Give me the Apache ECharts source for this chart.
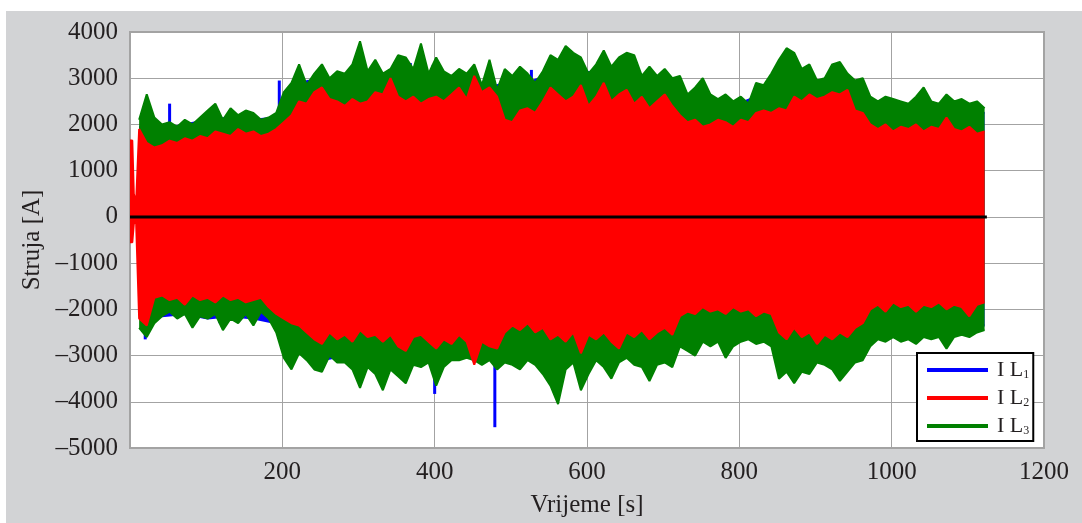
<!DOCTYPE html>
<html>
<head>
<meta charset="utf-8">
<script src="https://cdn.jsdelivr.net/npm/echarts@6/dist/echarts.min.js"></script>
<style>
  html, body { margin: 0; padding: 0; background: #fff; }
  #chart { position: absolute; left: 6px; top: 11px; width: 1076px; height: 512px; }
</style>
</head>
<body>
<div id="chart"></div>
<script>
// Struje faza – envelopa signala očitana sa slike (korak 10 s, od t = 12 s)
const T0 = 12, DT = 10;

const greenUp = [2100, 2650, 2150, 2000, 2050, 1950, 2100, 2000, 2150, 2300, 2450, 2100, 2350, 2200, 2300, 2250, 2100, 2150, 2250,
  2700, 2900, 3300, 2850, 3100, 3300, 3000, 3150,
  3100, 3300, 3800, 3150, 3400, 3100, 3200, 3500, 3450, 3200, 3750, 3100, 3450, 3150, 3050, 3200, 3100, 3300, 2850, 3400, 2750, 3200, 3050, 3250, 3100, 2900, 3150, 3500,
  3400, 3700, 3550, 3450, 3100, 3300, 3600, 3250, 3450, 3550, 3500, 3050, 3250, 3050, 3200, 3000, 3050, 2650, 2800, 3000, 2650, 2550, 2650, 2500, 2600, 2450, 2900, 2850,
  3100, 3400, 3650, 3550, 3200, 3300, 2950, 3000, 3300, 3350, 3100, 2950, 3000, 2600, 2500, 2600, 2550, 2500, 2450, 2600, 2800, 2500, 2450, 2650, 2500, 2550, 2450, 2500, 2350];

const greenLow = [-2400, -2600, -2300, -2150, -2050, -2200, -2100, -2400, -2150, -2200, -2100, -2450, -2200, -2300, -2100, -2350, -2050, -2200, -2500,
  -3050, -3300, -2950, -3100, -3300, -3350, -3000, -3150,
  -3150, -3300, -3700, -3250, -3400, -3750, -3300, -3450, -3600, -3200, -3250, -3150, -3650, -3250, -3100, -3100, -3050, -3100, -3200, -3100, -3300, -3150, -3200, -3300, -3100, -3200, -3400, -3650,
  -4050, -3300, -3150, -3750, -3400, -3100, -3250, -3500, -3150, -3050, -3200, -3250, -3550, -3200, -3150, -3250, -2800, -2900, -3000, -2700, -2800, -2700, -3050, -2800, -2700, -2650, -2750, -2700,
  -2800, -3500, -3350, -3600, -3350, -3400, -3150, -3200, -3300, -3550, -3350, -3150, -3100, -2800, -2650, -2700, -2600, -2700, -2650, -2750, -2600, -2650, -2600, -2850, -2600, -2550, -2600, -2500, -2450];

const redUp = [1900, 1600, 1500, 1550, 1650, 1600, 1700, 1650, 1750, 1700, 1850, 1800, 1750, 1900, 1800, 1850, 1750, 1800, 1900,
  2050, 2200, 2500, 2450, 2700, 2800, 2550, 2500,
  2400, 2550, 2450, 2500, 2700, 2650, 3000, 2600, 2500, 2600, 2450, 2550, 2600, 2500, 2650, 2800, 2550, 3050, 2700, 2800, 2600, 2100, 2050, 2300, 2350, 2250, 2500, 2800,
  2650, 2500, 2600, 2850, 2400, 2600, 2900, 2500, 2650, 2750, 2450, 2600, 2350, 2500, 2650, 2400, 2200, 2050, 2100, 1950, 2000, 2100, 2050, 1950, 2100, 2050, 2250, 2300,
  2250, 2350, 2300, 2600, 2500, 2650, 2550, 2600, 2700, 2650, 2750, 2300, 2250, 2000, 1900, 2000, 1850, 1950, 1900, 2000, 1850, 1950, 1900, 2150, 1900, 1850, 1950, 1800, 1850];

const redLow = [-2200, -2350, -1750, -1700, -1800, -1750, -1900, -1700, -1800, -1750, -1850, -1700, -1800, -1750, -1850, -1800, -1750, -1950, -2100,
  -2200, -2300, -2350, -2500, -2650, -2750, -2500, -2650,
  -2550, -2700, -2450, -2600, -2550, -2700, -2550, -2800, -2900, -2600, -2550, -2700, -2850, -2650, -2750, -2550, -2700, -3200, -2700, -2800, -2850, -2500, -2350, -2450, -2300, -2500, -2400, -2650,
  -2550, -2700, -2500, -2950, -2550, -2650, -2500, -2700, -2850, -2500, -2600, -2450, -2650, -2500, -2400, -2550, -2150, -2050, -2100, -1950, -2050, -2000, -2100, -1950, -2050, -2000, -2150, -2050,
  -2100, -2500, -2650, -2400, -2600, -2500, -2750, -2550, -2650, -2500, -2600, -2400, -2300, -2000, -1900, -2050, -1850, -1950, -1900, -2050, -1900, -1950, -1850, -2000, -1900, -1950, -2150, -1900, -1850];

// početni prijelaz faze L2 (prvih nekoliko sekundi)
const redLeadT = [0, 3, 5, 8];
const redLeadUp = [1650, 1650, 500, 300];
const redLeadLow = [-550, -550, -150, -100];

// faza L1 je uglavnom skrivena – grublja envelopa (korak 30 s) i vidljivi šiljci
const BT0 = 12, BDT = 30;
const blueUp = [1950, 1900, 2000, 2100, 2150, 2100, 2150, 2900, 3000, 2900, 3000, 3000, 3100, 3100, 3000, 2750, 2900, 2900, 3100,
  3200, 3100, 3100, 2900, 2900, 2550, 2500, 2400, 2600, 3100, 3000, 2850, 2900, 2450, 2400, 2400, 2350, 2400, 2250];
const blueLow = [-2200, -2150, -2100, -2200, -2150, -2200, -2300, -2800, -3100, -3000, -3100, -3100, -3000, -3000, -2950, -2950, -2950, -2900, -3100,
  -2950, -2950, -2900, -2950, -2900, -2600, -2550, -2550, -2500, -2900, -3000, -3000, -2950, -2500, -2450, -2500, -2450, -2400, -2350];
const blueSpikeT = [20, 52, 84, 118, 196, 368, 398, 400, 479, 527];
const blueSpikeV = [-2650, 2450, -2250, -2300, 2950, 3330, 3290, -3830, -4550, 3180];

// nulta linija
const zeroT = [0, 1125];
const zeroV = [0, 0];

const xTicks = [0, 200, 400, 600, 800, 1000, 1200];
const yMin = -5000, yMax = 4000, yStep = 1000;

const C_L1 = "#0000ff", C_L2 = "#ff0000", C_L3 = "#008000";
const FONT = "Liberation Serif";
const TXT = "#231f20";

const gridT = greenUp.map((_, i) => T0 + i * DT);
const blueT = blueUp.map((_, i) => BT0 + i * BDT);
const pairs = (ts, vs) => ts.map((t, i) => [t, vs[i]]);

// z odvojeno po fazi, inače sve linije idu iznad svih površina
function envSeries(name, color, data, z) {
  return {
    name, type: "line", data, z,
    showSymbol: false, silent: true,
    lineStyle: { color, width: 2 },
    itemStyle: { color },
    areaStyle: { color, opacity: 1 }
  };
}

const chart = echarts.init(document.getElementById("chart"));
chart.setOption({
  animation: false,
  backgroundColor: "#d2d3d5",
  grid: {
    left: 124, right: 38, top: 21, bottom: 74,
    show: true, backgroundColor: "#fff", borderColor: "#a3a3a3", borderWidth: 2
  },
  legend: {
    left: 911, top: 342, z: 20,
    orient: "vertical",
    backgroundColor: "#fff", borderColor: "#000", borderWidth: 2, borderRadius: 0,
    padding: [6, 4, 4, 10],
    itemWidth: 61, itemHeight: 4, itemGap: 6,
    icon: "rect",
    data: [
      { name: "I L1", itemStyle: { color: C_L1 } },
      { name: "I L2", itemStyle: { color: C_L2 } },
      { name: "I L3", itemStyle: { color: C_L3 } }
    ],
    formatter: n => n.slice(0, 3) + "{s|" + n.slice(3) + "}",
    textStyle: {
      fontFamily: FONT, fontSize: 22, color: TXT, padding: [0, 0, 0, 4],
      rich: { s: { fontFamily: FONT, fontSize: 12, color: TXT, verticalAlign: "bottom" } }
    }
  },
  xAxis: {
    type: "value", min: xTicks[0], max: xTicks[xTicks.length - 1], interval: 200,
    name: "Vrijeme [s]", nameLocation: "middle", nameGap: 45,
    nameTextStyle: { fontFamily: FONT, fontSize: 25, color: TXT },
    axisLine: { show: false }, axisTick: { show: false },
    axisLabel: {
      fontFamily: FONT, fontSize: 25, color: TXT, margin: 12,
      formatter: v => (v === 0 ? "" : String(v))
    },
    splitLine: { show: true, lineStyle: { color: "#a3a3a3", width: 1 } }
  },
  yAxis: {
    type: "value", min: yMin, max: yMax, interval: yStep,
    name: "Struja [A]", nameLocation: "middle", nameGap: 84,
    nameTextStyle: { fontFamily: FONT, fontSize: 25, color: TXT },
    axisLine: { show: false }, axisTick: { show: false },
    axisLabel: {
      fontFamily: FONT, fontSize: 25, color: TXT, margin: 12,
      formatter: v => (v < 0 ? "\u2013" + Math.abs(v) : String(v))
    },
    splitLine: { show: true, lineStyle: { color: "#a3a3a3", width: 1 } }
  },
  series: [
    envSeries("I L1", C_L1, pairs(blueT, blueUp), 2),
    envSeries("I L1", C_L1, pairs(blueT, blueLow), 2),
    {
      name: "I L1", type: "bar", silent: true, barWidth: 3, z: 2,
      data: pairs(blueSpikeT, blueSpikeV), itemStyle: { color: C_L1 }
    },
    envSeries("I L3", C_L3, pairs(gridT, greenUp), 3),
    envSeries("I L3", C_L3, pairs(gridT, greenLow), 3),
    envSeries("I L2", C_L2, pairs(redLeadT, redLeadUp).concat(pairs(gridT, redUp)), 4),
    envSeries("I L2", C_L2, pairs(redLeadT, redLeadLow).concat(pairs(gridT, redLow)), 4),
    {
      name: "nula", type: "line", silent: true, showSymbol: false, z: 5,
      data: pairs(zeroT, zeroV), lineStyle: { color: "#000", width: 3 }
    }
  ]
});
</script>
</body>
</html>
